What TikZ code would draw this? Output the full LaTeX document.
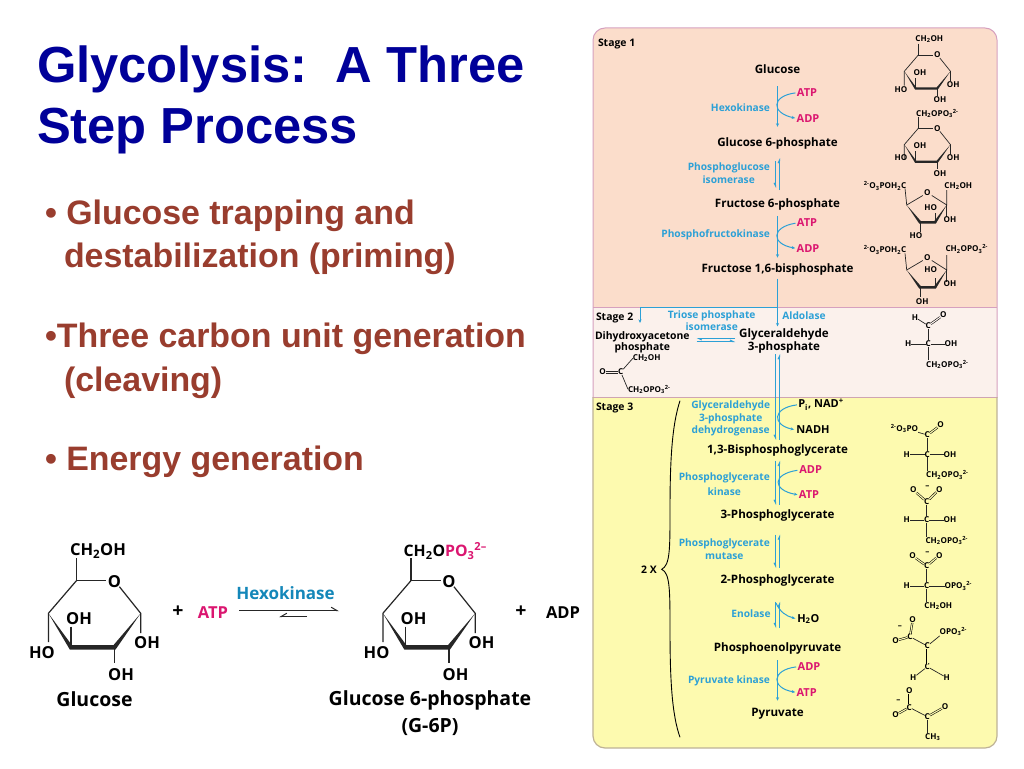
\documentclass[tikz,border=0pt]{standalone}
\usepackage{fontspec}
\setmainfont{Liberation Sans}
\newfontfamily\figf{Open Sans}
\usetikzlibrary{arrows.meta}
\definecolor{navy}{RGB}{0,0,153}
\definecolor{rust}{RGB}{153,61,46}
\definecolor{stA}{RGB}{251,221,203}
\definecolor{stB}{RGB}{251,241,236}
\definecolor{stC}{RGB}{253,250,175}
\definecolor{enz}{RGB}{44,160,214}
\definecolor{hexo}{RGB}{20,135,185}
\definecolor{mag}{RGB}{219,22,112}
\definecolor{pinkline}{RGB}{214,160,190}
\definecolor{tanline}{RGB}{190,178,150}
\tikzset{
 every node/.style={inner sep=0pt,outer sep=0pt},
 titletxt/.style={anchor=base west,yshift=-1pt,text=navy,font=\bfseries\fontsize{50.7}{52}\selectfont},
 bullettxt/.style={anchor=base west,yshift=-1pt,text=rust,font=\bfseries\fontsize{33.9}{36}\selectfont},
 cpd/.style={text=black,font=\figf\bfseries\fontsize{11.6}{13}\selectfont,text height=9.5pt,text depth=1.5pt},
 cpds/.style={cpd,font=\figf\bfseries\fontsize{10.4}{12}\selectfont},
 stagetxt/.style={cpd,anchor=west,font=\figf\bfseries\fontsize{10.4}{12}\selectfont},
 enzr/.style={text=enz,yshift=-0.7pt,font=\figf\bfseries\fontsize{10.2}{12}\selectfont},
 enzrr/.style={enzr,anchor=east},
 cof/.style={text=mag,yshift=-0.7pt,font=\figf\bfseries\fontsize{11}{13}\selectfont},
 cofk/.style={cof,text=black},
 chem/.style={text=black,font=\figf\bfseries\fontsize{8.1}{10}\selectfont},
 big/.style={text=black,yshift=-1pt,font=\figf\bfseries\fontsize{16.5}{18}\selectfont},
 bign/.style={text=black,font=\figf\bfseries\fontsize{19.5}{22}\selectfont},
 bond/.style={line width=0.7pt,draw=black!85},
 bondb/.style={line width=1.2pt,draw=black!85},
 dbl/.style={draw=black,line width=0.55pt,double=#1,double distance=1.1pt},
 arr/.style={draw=enz,line width=1pt,-{Stealth[length=3.5pt,width=3pt]}},
 eqd/.style={draw=enz,line width=1pt,-{Straight Barb[harpoon,length=3pt,width=3pt]}},
 eqs/.style={draw=enz,line width=1pt,-{Straight Barb[harpoon,swap,length=3pt,width=3pt]}},
 cur/.style={draw=enz,line width=1pt,-{Stealth[length=3.5pt,width=3pt]}},
}
\newcommand\T[5]{\node[#1] (#2) at (#3,#4) {#5};}
\newcommand\pyran[6]{%
 \begin{scope}[shift={(#1,#2)},scale=#3]
  \draw[#5] (0,-22.7) -- (0,0) -- (30,0);
  \draw[#5] (43,6) -- (64.3,32.6) -- (64.3,52.3);
  \draw[#5] (0,0) -- (-28,32.6) -- (-28,61.3);
  \draw[#5] (-5.4,46) -- (-5.4,66.6);
  \draw[#5] (38.1,66.6) -- (38.1,82.3);
  \fill[black!85] (-28,32.6) -- (-6.5,69) -- (39,69) -- (64.3,32.6) -- (37,64.5) -- (-4.5,64.5) -- cycle;
  \node[#6] (#4) at (38.1,0) {O};
 \end{scope}}
\newcommand\furan[3]{%
 \begin{scope}[shift={(#1,#2)}]
  \draw[bond] (-4.5,2.8) -- (-20.6,12.3) -- (-22.3,-4.4);
  \draw[bond] (4.5,2.8) -- (19.4,12.3) -- (19.4,-2.7);
  \draw[bond] (19.4,12.3) -- (19.4,24);
  \draw[bond] (7.7,20.6) -- (7.7,29.6);
  \draw[bond] (-7.3,29.6) -- (-7.3,39);
  \fill[black!85] (-20.6,12.3) -- (-8,31) -- (8.5,31) -- (19.4,12.3) -- (7,28.4) -- (-6.5,28.4) -- cycle;
  \node[chem] (#3) at (0,0) {O};
 \end{scope}}
\begin{document}
\begin{tikzpicture}[x=1pt,y=-1pt]
\useasboundingbox (0,0) rectangle (1024,768);
\fill[white] (0,0) rectangle (1024,768);
% title and bullets
\T{titletxt}{t1}{37}{81}{Glycolysis:\ \ A Three}
\T{titletxt}{t2}{37}{142}{Step Process}
\T{bullettxt}{b1}{45}{223}{• Glucose trapping and}
\T{bullettxt}{b1b}{64}{266}{destabilization (priming)}
\T{bullettxt}{b2}{45}{346}{•Three carbon unit generation}
\T{bullettxt}{b2b}{64}{390}{(cleaving)}
\T{bullettxt}{b3}{45}{469}{• Energy generation}
% hexokinase reaction
\pyran{76.4}{580.7}{1}{ro1}{bondb}{big}
\T{big}{g1}{98}{550}{CH\textsubscript{2}OH}
\T{big}{g2}{79}{617.7}{OH}
\T{big}{g3}{147}{642}{OH}
\T{big}{g4}{42}{651.7}{HO}
\T{big}{g5}{121}{674}{OH}
\T{bign}{gname}{94.5}{699}{Glucose}
\T{bign}{plus1}{178}{612}{+}
\T{big,text=mag}{atpb}{213}{612}{ATP}
\T{big,text=hexo,font=\figf\bfseries\fontsize{17}{19}\selectfont}{hexb}{285.5}{591.7}{Hexokinase}
\coordinate (fw1) at (239,610.7); \coordinate (fw2) at (339,610.7);
\coordinate (bk1) at (307,616.7); \coordinate (bk2) at (279,616.7);
\draw[line width=1pt,draw=black!85,-{Straight Barb[harpoon,length=6pt,width=7pt]}] (fw1) -- (fw2);
\draw[line width=1pt,draw=black!85,-{Straight Barb[harpoon,swap,length=6pt,width=7pt]}] (bk1) -- (bk2);
\pyran{410.9}{580.7}{1}{ro2}{bondb}{big}
\node[big,anchor=west,font=\figf\bfseries\fontsize{15.8}{18}\selectfont] (g6a) at (403.6,550) {CH\textsubscript{2}O\textcolor{mag}{PO\textsubscript{3}\textsuperscript{2–}}};
\T{big}{h2}{413.5}{617.7}{OH}
\T{big}{h3}{481.5}{642}{OH}
\T{big}{h4}{376.5}{651.7}{HO}
\T{big}{h5}{455.5}{674}{OH}
\T{bign}{h6}{430}{700}{Glucose 6-phosphate}
\T{bign}{h7}{430}{727}{(G-6P)}
\T{bign}{plus2}{521}{612}{+}
\T{big}{adpb}{563}{612}{ADP}
% panel
\begin{scope}
 \clip[rounded corners=12pt] (593,28) rectangle (997,748);
 \fill[stA] (593,28) rectangle (997,307.7);
 \fill[stB] (593,307.7) rectangle (997,397.3);
 \fill[stC] (593,397.3) rectangle (997,748);
 \draw[pinkline,line width=0.8pt] (593,307.7) -- (997,307.7);
 \draw[pinkline!70!tanline,line width=0.8pt] (593,397.3) -- (997,397.3);
\end{scope}
\begin{scope}
 \clip (580,20) rectangle (1010,397.3);
 \draw[pinkline,line width=1pt,rounded corners=12pt] (593,28) rectangle (997,748);
\end{scope}
\begin{scope}
 \clip (580,397.3) rectangle (1010,760);
 \draw[tanline,line width=1.2pt,rounded corners=12pt] (593,28) rectangle (997,748);
\end{scope}
\node[stagetxt] (s1) at (598,42) {Stage 1};
\node[stagetxt] (s2) at (596,316.7) {Stage 2};
\node[stagetxt] (s3) at (596,406.7) {Stage 3};
% compounds
\T{cpd}{glc}{777.5}{69}{Glucose}
\T{cpd}{gsp}{777.5}{142.7}{Glucose 6-phosphate}
\T{cpd}{fsp}{777.5}{203}{Fructose 6-phosphate}
\T{cpd}{fbp}{777.5}{268}{Fructose 1,6-bisphosphate}
\T{cpds}{dha}{642.3}{335}{Dihydroxyacetone}
\T{cpds}{dhb}{642.3}{346.7}{phosphate}
\T{cpd}{gla}{784}{333.3}{Glyceraldehyde}
\T{cpd}{glb}{784}{346.7}{3-phosphate}
\T{cpd}{bpg}{777.5}{449}{1,3-Bisphosphoglycerate}
\T{cpd}{tpg}{777.5}{514}{3-Phosphoglycerate}
\T{cpd}{twg}{777.5}{579.3}{2-Phosphoglycerate}
\T{cpd}{pep}{777.5}{647}{Phosphoenolpyruvate}
\T{cpd}{pyr}{777.5}{712.7}{Pyruvate}
% enzymes
\T{enzrr}{e1}{770}{106.7}{Hexokinase}
\T{enzrr}{e2}{770}{166.7}{Phosphoglucose}
\T{enzr}{e2b}{728.7}{179}{isomerase}
\T{enzrr}{e3}{770}{234}{Phosphofructokinase}
\T{enzr}{e4}{711.7}{315}{Triose phosphate}
\T{enzr}{e4b}{711.7}{326}{isomerase}
\T{enzr}{e5}{804}{315}{Aldolase}
\T{enzr}{e6}{730.7}{405.3}{Glyceraldehyde}
\T{enzr}{e6b}{730.7}{417.7}{3-phosphate}
\T{enzr}{e6c}{730.7}{429.7}{dehydrogenase}
\T{enzr}{e7}{724.3}{477.3}{Phosphoglycerate}
\T{enzr}{e7b}{724.3}{490.7}{kinase}
\T{enzr}{e8}{724.3}{542.7}{Phosphoglycerate}
\T{enzr}{e8b}{724.3}{555.3}{mutase}
\T{enzr}{e9}{751}{613.3}{Enolase}
\T{enzrr}{e10}{770}{680}{Pyruvate kinase}
% cofactors
\T{cof}{a1}{807}{92}{ATP}
\T{cof}{d1}{808}{117.7}{ADP}
\T{cof}{a2}{807}{222.3}{ATP}
\T{cof}{d2}{808}{247.7}{ADP}
\node[cofk,anchor=west] (pi) at (798.3,404) {P\textsubscript{i}, NAD\textsuperscript{+}};
\T{cofk}{nadh}{813}{429.3}{NADH}
\T{cof}{d3}{810.7}{469.3}{ADP}
\T{cof}{a3}{809}{494.3}{ATP}
\T{cofk}{wat}{808.3}{618.3}{H\textsubscript{2}O}
\T{cof}{d4}{809}{666}{ADP}
\T{cof}{a4}{806.7}{691.7}{ATP}
% pathway arrows
\draw[arr,shorten <=11.7pt,shorten >=10.4pt] (glc) -- (gsp);
\draw[eqd,shorten <=7.5pt,shorten >=9.9pt] ([xshift=2pt]fsp.north) -- ([xshift=2pt]gsp.south);
\draw[eqs,shorten <=13.2pt,shorten >=9.6pt] ([xshift=-2pt]gsp.south) -- ([xshift=-2pt]fsp.north);
\draw[arr,shorten <=7.4pt,shorten >=4.8pt] (fsp) -- (fbp);
\draw[arr,shorten <=5pt,shorten >=1.3pt] (fbp.south) -- (fbp.south |- gla.north);
\coordinate (brk) at (777.5,307.7); \coordinate (dtop) at (640,323);
\draw[arr] (brk) -| (dtop);
\coordinate (iso1) at (735,338.5); \coordinate (iso2) at (696.7,338.5);
\coordinate (iso3) at (696.7,341.5); \coordinate (iso4) at (735,341.5);
\draw[eqd] (iso1) -- (iso2);
\draw[eqd] (iso3) -- (iso4);
\draw[eqs,shorten <=2pt,shorten >=3.7pt] ([xshift=-2pt]fbp.south |- glb.south) -- ([xshift=-2pt]bpg.north);
\draw[eqd,shorten <=3.7pt,shorten >=2pt] ([xshift=2pt]bpg.north) -- ([xshift=2pt]fbp.south |- glb.south);
\draw[eqd,shorten <=3.7pt,shorten >=6.4pt] ([xshift=2pt]tpg.north) -- ([xshift=2pt]bpg.south);
\draw[eqs,shorten <=6.4pt,shorten >=3.7pt] ([xshift=-2pt]bpg.south) -- ([xshift=-2pt]tpg.north);
\draw[eqd,shorten <=6pt,shorten >=15pt] ([xshift=2pt]twg.north) -- ([xshift=2pt]tpg.south);
\draw[eqs,shorten <=15pt,shorten >=6pt] ([xshift=-2pt]tpg.south) -- ([xshift=-2pt]twg.north);
\draw[eqd,shorten <=13.5pt,shorten >=17pt] ([xshift=2pt]pep.north) -- ([xshift=2pt]twg.south);
\draw[eqs,shorten <=17pt,shorten >=13.5pt] ([xshift=-2pt]twg.south) -- ([xshift=-2pt]pep.north);
\draw[arr,shorten <=7.8pt,shorten >=6.5pt] (pep) -- (pyr);
% side curves
\draw[cur,shorten <=1.5pt,shorten >=1.5pt] (a1.west) .. controls (771,96) and (771,113) .. (d1.west);
\draw[cur,shorten <=1.5pt,shorten >=1.5pt] (a2.west) .. controls (771,227) and (771,244) .. (d2.west);
\draw[cur,shorten <=1.5pt,shorten >=2.5pt] (pi.west) .. controls (772,408) and (772,425) .. (nadh.west);
\draw[cur,shorten <=2pt,shorten >=1.5pt] (d3.west) .. controls (772,474) and (772,490) .. (a3.west);
\coordinate (wstart) at (776,603);
\draw[cur,shorten >=2pt] (wstart) .. controls (780,612) and (786,616) .. (wat.west);
\draw[cur,shorten <=1.5pt,shorten >=1.5pt] (d4.west) .. controls (771,670) and (771,688) .. (a4.west);
% 2X brace
\T{cpds}{twox}{649}{569.3}{2 X}
\coordinate (brt) at (680,400.7); \coordinate (brm) at (661.7,569.3); \coordinate (brb) at (680,737.3);
\draw[line width=0.9pt,black] (brt) .. controls (672,425) and (670,460) .. (670,510) .. controls (670,550) and (670,565) .. (brm) .. controls (670,573) and (670,590) .. (670,630) .. controls (670,680) and (672,715) .. (brb);
% ring structures, right column
\pyran{918.3}{55}{0.5}{ra}{bond}{chem}
\T{chem}{ra1}{929.3}{39.3}{CH\textsubscript{2}OH}
\T{chem}{ra2}{920}{72.7}{OH}
\T{chem}{ra3}{953.3}{85}{OH}
\T{chem}{ra4}{901}{89.3}{HO}
\T{chem}{ra5}{940}{100}{OH}
\pyran{918.3}{128.3}{0.5}{rb}{bond}{chem}
\T{chem}{rb1}{937.3}{113.3}{CH\textsubscript{2}OPO\textsubscript{3}\textsuperscript{2-}}
\T{chem}{rb2}{920}{146}{OH}
\T{chem}{rb3}{953.3}{157.7}{OH}
\T{chem}{rb4}{901}{157.7}{HO}
\T{chem}{rb5}{940}{173.3}{OH}
\furan{927.3}{192.7}{rc}
\T{chem}{rc1}{885}{186}{\textsuperscript{2-}O\textsubscript{3}POH\textsubscript{2}C}
\T{chem}{rc2}{958.3}{186}{CH\textsubscript{2}OH}
\T{chem}{rc3}{930.7}{208}{HO}
\T{chem}{rc4}{950}{220}{OH}
\T{chem}{rc5}{916}{235.7}{HO}
\furan{927.3}{257.7}{rd}
\T{chem}{rd1}{885}{250}{\textsuperscript{2-}O\textsubscript{3}POH\textsubscript{2}C}
\T{chem}{rd2}{966.7}{249}{CH\textsubscript{2}OPO\textsubscript{3}\textsuperscript{2-}}
\T{chem}{rd3}{930.7}{270}{HO}
\T{chem}{rd4}{950}{283.3}{OH}
\T{chem}{rd5}{922.3}{301.7}{OH}
% glyceraldehyde 3-phosphate
\T{chem}{ga1}{915}{317.3}{H}
\T{chem}{ga2}{928.3}{325.7}{C}
\T{chem}{ga3}{943.3}{315}{O}
\T{chem}{ga4}{928.3}{344}{C}
\T{chem}{ga5}{908.3}{344}{H}
\T{chem}{ga6}{951}{344}{OH}
\T{chem}{ga7}{947.3}{364.3}{CH\textsubscript{2}OPO\textsubscript{3}\textsuperscript{2-}}
\draw[bond] (ga1) -- (ga2);
\draw[dbl=stB] (ga2) -- (ga3);
\draw[bond] (ga2) -- (ga4);
\draw[bond] (ga4) -- (ga7.north -| ga4);
\draw[bond] (ga5) -- (ga4);
\draw[bond] (ga4) -- (ga6);
% dihydroxyacetone phosphate
\T{chem}{da1}{602.7}{372}{O}
\T{chem}{da2}{620.7}{372}{C}
\T{chem}{da3}{646.7}{358.3}{CH\textsubscript{2}OH}
\node[chem,anchor=west] (da4) at (628,389.3) {CH\textsubscript{2}OPO\textsubscript{3}\textsuperscript{2-}};
\draw[draw=black!85,line width=0.6pt] ([yshift=1pt]da1.east) -- ([yshift=1pt]da2.west);
\draw[draw=black!85,line width=0.6pt] ([yshift=-1pt]da1.east) -- ([yshift=-1pt]da2.west);
\draw[bond] (da2) -- (da3.west);
\draw[bond] (da2) -- (da4.west);
% 1,3-bisphosphoglycerate
\T{chem}{bg1}{904.5}{428.3}{\textsuperscript{2-}O\textsubscript{3}PO}
\T{chem}{bg2}{927.3}{435}{C}
\T{chem}{bg3}{940.7}{425}{O}
\T{chem}{bg4}{927.3}{454.3}{C}
\T{chem}{bg5}{906.7}{454.3}{H}
\T{chem}{bg6}{950}{454.3}{OH}
\T{chem}{bg7}{947.3}{475}{CH\textsubscript{2}OPO\textsubscript{3}\textsuperscript{2-}}
\draw[bond] (bg1) -- (bg2);
\draw[dbl=stC] (bg2) -- (bg3);
\draw[bond] (bg2) -- (bg4);
\draw[bond] (bg4) -- (bg7.north -| bg4);
\draw[bond] (bg5) -- (bg4);
\draw[bond] (bg4) -- (bg6);
% 3-phosphoglycerate
\T{chem}{pa1}{913.3}{490}{O}
\T{chem}{pa2}{939.3}{489.3}{O}
\T{chem}{pam}{927.3}{486.7}{–}
\T{chem}{pa3}{926.7}{501.7}{C}
\T{chem}{pa4}{926.7}{520}{C}
\T{chem}{pa5}{906.7}{520}{H}
\T{chem}{pa6}{950}{520}{OH}
\T{chem}{pa7}{946.7}{540.7}{CH\textsubscript{2}OPO\textsubscript{3}\textsuperscript{2-}}
\draw[dbl=stC] (pa1) -- (pa3);
\draw[dbl=stC] (pa2) -- (pa3);
\draw[bond] (pa3) -- (pa4);
\draw[bond] (pa4) -- (pa7.north -| pa4);
\draw[bond] (pa5) -- (pa4);
\draw[bond] (pa4) -- (pa6);
% 2-phosphoglycerate
\T{chem}{qa1}{912.7}{556}{O}
\T{chem}{qa2}{939.3}{555.3}{O}
\T{chem}{qam}{927.3}{552.7}{–}
\T{chem}{qa3}{926.7}{566}{C}
\T{chem}{qa4}{926.7}{586}{C}
\T{chem}{qa5}{906.7}{586}{H}
\T{chem}{qa6}{958.3}{586}{OPO\textsubscript{3}\textsuperscript{2-}}
\T{chem}{qa7}{938.3}{606}{CH\textsubscript{2}OH}
\draw[dbl=stC] (qa1) -- (qa3);
\draw[dbl=stC] (qa2) -- (qa3);
\draw[bond] (qa3) -- (qa4);
\draw[bond] (qa4) -- (qa7.north -| qa4);
\draw[bond] (qa5) -- (qa4);
\draw[bond] (qa4) -- (qa6.west);
% phosphoenolpyruvate
\T{chem}{ep1}{912.7}{620}{O}
\T{chem}{epm}{900}{626.7}{–}
\T{chem}{ep2}{910}{636.7}{C}
\T{chem}{ep3}{895.7}{640.7}{O}
\T{chem}{ep4}{927.3}{646}{C}
\T{chem}{ep5}{953.3}{631.7}{OPO\textsubscript{3}\textsuperscript{2-}}
\T{chem}{ep6}{927.3}{666.7}{C}
\T{chem}{ep7}{913.3}{677.7}{H}
\T{chem}{ep8}{946.7}{677.7}{H}
\draw[dbl=stC] (ep1) -- (ep2);
\draw[dbl=stC] (ep3) -- (ep2);
\draw[bond] (ep2) -- (ep4);
\draw[bond] (ep4) -- (ep5.south west);
\draw[dbl=stC] (ep4) -- (ep6);
\draw[bond] (ep6) -- (ep7);
\draw[bond] (ep6) -- (ep8);
% pyruvate
\T{chem}{py1}{909.3}{690.7}{O}
\T{chem}{pym}{898.3}{700.7}{–}
\T{chem}{py2}{909.3}{707.3}{C}
\T{chem}{py3}{895.7}{715}{O}
\T{chem}{py4}{927.3}{716.7}{C}
\T{chem}{py5}{945}{706.7}{O}
\T{chem}{py6}{932.7}{737.3}{CH\textsubscript{3}}
\draw[dbl=stC] (py1) -- (py2);
\draw[dbl=stC] (py3) -- (py2);
\draw[bond] (py2) -- (py4);
\draw[dbl=stC] (py4) -- (py5);
\draw[bond] (py4) -- (py6.north -| py4);
\end{tikzpicture}
\end{document}
